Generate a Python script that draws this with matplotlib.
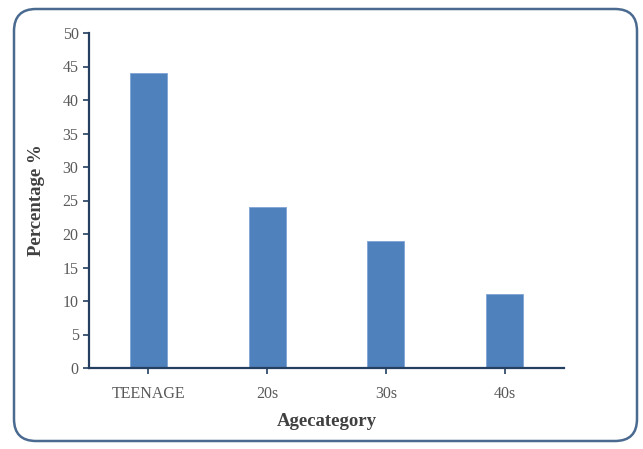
import matplotlib.pyplot as plt
from matplotlib.patches import FancyBboxPatch

categories = ['TEENAGE', '20s', '30s', '40s']
percentages = [44, 24, 19, 11]
y_ticks = list(range(0, 51, 5))

BAR_COLOR = '#4F81BD'
AXIS_COLOR = '#243F60'
TEXT_COLOR = '#595959'
FRAME_COLOR = '#4A6A90'

plt.rcParams['font.family'] = ['Liberation Serif', 'DejaVu Serif']

fig = plt.figure(figsize=(6.43, 4.49), dpi=100)

# rounded outer frame, drawn on a pixel-scaled background axes
bg = fig.add_axes([0, 0, 1, 1])
bg.set_xlim(0, 643)
bg.set_ylim(449, 0)
bg.axis('off')
frame = FancyBboxPatch((14, 9), 623, 432, boxstyle='round,pad=0,rounding_size=22',
                       fill=False, edgecolor=FRAME_COLOR, linewidth=1.8)
bg.add_patch(frame)

ax = fig.add_axes([89 / 643, 1 - 368 / 449, (564 - 89) / 643, (368 - 33) / 449])
ax.patch.set_alpha(0)

x = range(len(categories))
ax.bar(x, percentages, width=0.31, color=BAR_COLOR, edgecolor='#7FA4D6', linewidth=0.6)

ax.set_xlim(-0.5, len(categories) - 0.5)
ax.set_ylim(0, 50)
ax.set_yticks(y_ticks)
ax.set_xticks(list(x))
ax.set_xticklabels(categories)

for side in ['top', 'right']:
    ax.spines[side].set_visible(False)
for side in ['left', 'bottom']:
    ax.spines[side].set_color(AXIS_COLOR)
    ax.spines[side].set_linewidth(1.6)

ax.tick_params(axis='both', colors=AXIS_COLOR, labelcolor=TEXT_COLOR, labelsize=11.5,
               length=4, width=1.2, direction='out')
ax.tick_params(axis='x', pad=9)

ax.set_xlabel('Agecategory', fontsize=13.5, fontweight='bold', color='#404040', labelpad=8)
ax.set_ylabel('Percentage %', fontsize=13.5, fontweight='bold', color='#404040', labelpad=13)

fig.savefig('out.png', dpi=100)
